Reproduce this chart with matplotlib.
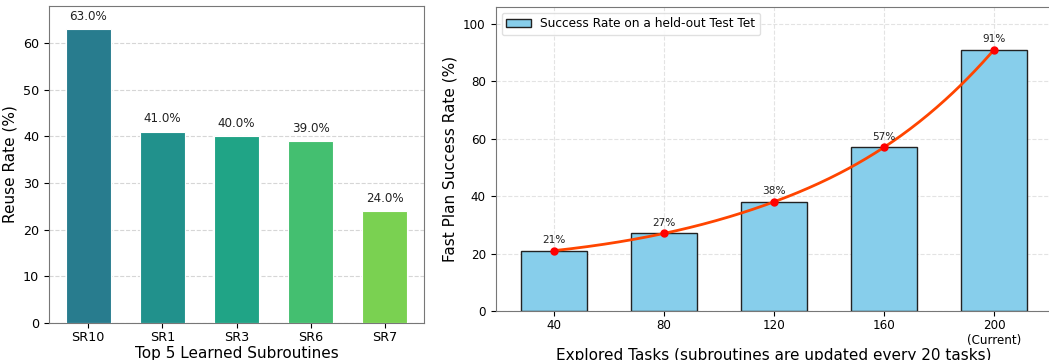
import numpy as np
import matplotlib
matplotlib.use("Agg")
import matplotlib.pyplot as plt

# ---- data ----
sr_names = ["SR10", "SR1", "SR3", "SR6", "SR7"]
reuse_rate = [63.0, 41.0, 40.0, 39.0, 24.0]

tasks = [40, 80, 120, 160, 200]
task_labels = ["40", "80", "120", "160", "200\n(Current)"]
success_rate = [21, 27, 38, 57, 91]

bar_colors = ["#287c8e", "#21918c", "#20a486", "#44bf70", "#7ad151"]


def spline_curve(x, y, n=300):
    """not-a-knot cubic spline through the points."""
    x = np.asarray(x, float); y = np.asarray(y, float)
    m = len(x) - 1
    A = np.zeros((4 * m, 4 * m)); b = np.zeros(4 * m)
    r = 0
    for i in range(m):
        for xx, yy in ((x[i], y[i]), (x[i + 1], y[i + 1])):
            A[r, 4 * i:4 * i + 4] = [xx ** 3, xx ** 2, xx, 1]; b[r] = yy; r += 1
    for i in range(m - 1):
        xx = x[i + 1]
        A[r, 4 * i:4 * i + 4] = [3 * xx ** 2, 2 * xx, 1, 0]
        A[r, 4 * (i + 1):4 * (i + 1) + 4] = [-3 * xx ** 2, -2 * xx, -1, 0]; r += 1
        A[r, 4 * i:4 * i + 4] = [6 * xx, 2, 0, 0]
        A[r, 4 * (i + 1):4 * (i + 1) + 4] = [-6 * xx, -2, 0, 0]; r += 1
    A[r, 0] = 1; A[r, 4] = -1; r += 1
    A[r, 4 * (m - 2)] = 1; A[r, 4 * (m - 1)] = -1; r += 1
    c = np.linalg.solve(A, b)
    xs = np.linspace(x[0], x[-1], n)
    idx = np.clip(np.searchsorted(x, xs, side="right") - 1, 0, m - 1)
    co = c.reshape(m, 4)[idx]
    ys = co[:, 0] * xs ** 3 + co[:, 1] * xs ** 2 + co[:, 2] * xs + co[:, 3]
    return xs, ys


fig = plt.figure(figsize=(10.49, 3.6), dpi=100)

# ---- left panel ----
ax1 = fig.add_axes([49 / 1049, 37 / 360, 375 / 1049, 317.5 / 360])
xpos = np.arange(len(sr_names))
ax1.bar(xpos, reuse_rate, width=0.6, color=bar_colors, edgecolor="white", linewidth=0.8, zorder=3)
for xi, v in zip(xpos, reuse_rate):
    ax1.text(xi, v + 1.3, f"{v:.1f}%", ha="center", va="bottom", fontsize=8.6, color="#222222")
ax1.set_xticks(xpos)
ax1.set_xticklabels(sr_names, fontsize=9.2)
ax1.tick_params(axis="x", pad=2)
ax1.set_ylim(0, 68)
ax1.set_yticks(range(0, 61, 10))
ax1.tick_params(axis="y", labelsize=9.2)
ax1.set_ylabel("Reuse Rate (%)", fontsize=11)
ax1.set_xlabel("Top 5 Learned Subroutines", fontsize=11, labelpad=1.5)
ax1.yaxis.grid(True, linestyle="--", color="#cccccc", alpha=0.8, zorder=0)
ax1.set_axisbelow(True)
for s in ax1.spines.values():
    s.set_color("#777777")

# ---- right panel ----
ax2 = fig.add_axes([495.5 / 1049, 49 / 360, 557 / 1049, 304.5 / 360])
ax2.bar(tasks, success_rate, width=24, color="#87ceeb", edgecolor="#222222", linewidth=1.0,
        label="Success Rate on a held-out Test Tet", zorder=3)
xs, ys = spline_curve(tasks, success_rate)
ax2.plot(xs, ys, color="#ff4500", linewidth=2, zorder=4)
ax2.plot(tasks, success_rate, "o", color="red", markersize=5, zorder=5)
for t, v in zip(tasks, success_rate):
    ax2.text(t, v + 2.0, f"{v}%", ha="center", va="bottom", fontsize=7.6, color="#222222", zorder=6)
ax2.set_xticks(tasks)
ax2.set_xticklabels(task_labels, fontsize=8.6)
ax2.tick_params(axis="x", pad=2)
ax2.set_ylim(0, 106)
ax2.set_yticks(range(0, 101, 20))
ax2.tick_params(axis="y", labelsize=8.6)
ax2.set_ylabel("Fast Plan Success Rate (%)", fontsize=11)
ax2.set_xlabel("Explored Tasks (subroutines are updated every 20 tasks)", fontsize=11, labelpad=1)
ax2.grid(True, linestyle="--", color="#dddddd", alpha=0.8, zorder=0)
ax2.set_axisbelow(True)
for s in ax2.spines.values():
    s.set_color("#777777")
ax2.legend(loc="upper left", fontsize=8.7, framealpha=0.9, edgecolor="#dddddd")

fig.savefig("out.png", dpi=100)
